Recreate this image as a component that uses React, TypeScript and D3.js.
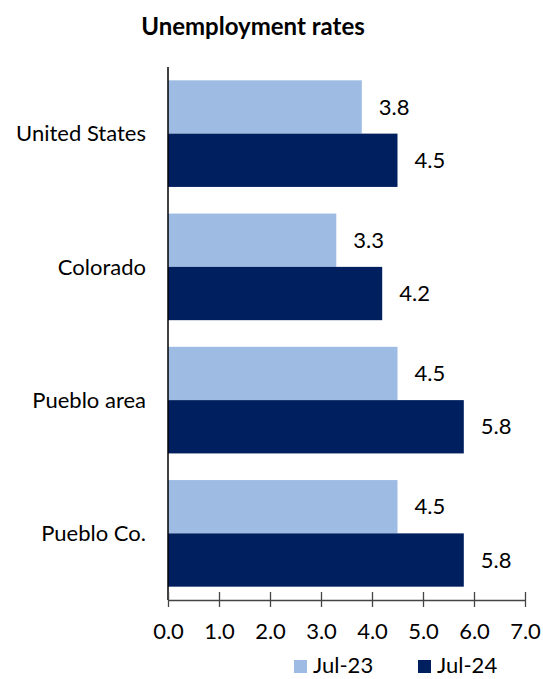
import * as d3 from "d3";
import { useEffect, useRef } from "react";

const categories = ["United States", "Colorado", "Pueblo area", "Pueblo Co."];
const seriesNames = ["Jul-23", "Jul-24"];
const jul23 = [3.8, 3.3, 4.5, 4.5];
const jul24 = [4.5, 4.2, 5.8, 5.8];
const xTicks = [0, 1, 2, 3, 4, 5, 6, 7];

const colors = ["#9dbbe3", "#001f5f"];
const font = "Lato, 'Open Sans', sans-serif";
const fontSize = "22px";

export default function App() {
  const svgRef = useRef<SVGSVGElement>(null);

  useEffect(() => {
    if (!svgRef.current) return;
    document.body.style.margin = "0";

    const width = 543;
    const height = 679;
    const svg = d3.select<SVGSVGElement, unknown>(svgRef.current);
    svg.selectAll("*").remove();
    svg.attr("width", width).attr("height", height);

    svg.append("rect").attr("width", width).attr("height", height).attr("fill", "#fff");

    const x = d3.scaleLinear().domain([0, 7]).range([168, 525]);
    const y = d3
      .scaleBand<string>()
      .domain(categories)
      .range([67, 600])
      .paddingInner(0.2)
      .paddingOuter(0.1);
    const sub = d3.scaleBand<string>().domain(seriesNames).range([0, y.bandwidth()]);

    // Title
    svg
      .append("text")
      .attr("x", 253)
      .attr("y", 35)
      .attr("text-anchor", "middle")
      .attr("font-family", font)
      .attr("font-weight", "bold")
      .attr("font-size", "24px")
      .attr("fill", "#000")
      .text("Unemployment rates");

    const rows = categories.map((c, i) => ({ c, vals: [jul23[i], jul24[i]] }));

    const g = svg.append("g");
    rows.forEach((r) => {
      r.vals.forEach((v, j) => {
        const yy = (y(r.c) as number) + (sub(seriesNames[j]) as number);
        g.append("rect")
          .attr("x", x(0))
          .attr("y", yy)
          .attr("width", x(v) - x(0))
          .attr("height", sub.bandwidth())
          .attr("fill", colors[j]);
        g.append("text")
          .attr("x", x(v) + 17)
          .attr("y", yy + sub.bandwidth() / 2)
          .attr("dy", "0.35em")
          .attr("font-family", font)
          .attr("font-size", fontSize)
          .attr("fill", "#000")
          .text(v.toFixed(1));
      });
      // Category label
      g.append("text")
        .attr("x", 146)
        .attr("y", (y(r.c) as number) + y.bandwidth() / 2)
        .attr("dy", "0.35em")
        .attr("text-anchor", "end")
        .attr("font-family", font)
        .attr("font-size", fontSize)
        .attr("fill", "#000")
        .text(r.c);
    });

    // Vertical axis line
    svg
      .append("line")
      .attr("x1", x(0))
      .attr("x2", x(0))
      .attr("y1", 67)
      .attr("y2", 600)
      .attr("stroke", "#000")
      .attr("stroke-width", 1.5);

    // X axis
    const xAxis = d3
      .axisBottom(x)
      .tickValues(xTicks)
      .tickFormat((d) => (d as number).toFixed(1))
      .tickSizeInner(7)
      .tickSizeOuter(0)
      .tickPadding(16);
    const axisG = svg.append("g").attr("transform", "translate(0,600)").call(xAxis);
    axisG.select(".domain").attr("stroke", "#444").attr("stroke-width", 1.5);
    axisG
      .selectAll(".tick line")
      .attr("stroke", "#444")
      .attr("stroke-width", 1.3)
      .attr("y1", -8);
    axisG
      .selectAll(".tick text")
      .attr("fill", "#000")
      .attr("font-family", font)
      .attr("font-size", fontSize);

    // Legend
    const legendPos = [294, 418];
    seriesNames.forEach((s, j) => {
      svg
        .append("rect")
        .attr("x", legendPos[j])
        .attr("y", 660)
        .attr("width", 13)
        .attr("height", 13)
        .attr("fill", colors[j]);
      svg
        .append("text")
        .attr("x", legendPos[j] + 19)
        .attr("y", 665)
        .attr("dy", "0.35em")
        .attr("font-family", font)
        .attr("font-size", fontSize)
        .attr("fill", "#000")
        .text(s);
    });
  }, []);

  return <svg ref={svgRef}></svg>;
}
